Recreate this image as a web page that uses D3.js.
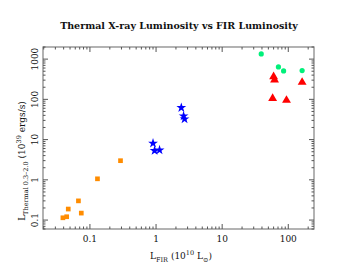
<!DOCTYPE html>
<html>
<head>
<meta charset="utf-8">
<script src="https://cdn.jsdelivr.net/npm/d3@7"></script>
<style>
  body { margin: 0; background: #fff; }
  text { font-family: "DejaVu Serif", serif; fill: #111; }
</style>
</head>
<body>
<svg id="chart" width="358" height="277"></svg>
<script>
// data (x = L_FIR in 1e10 Lsun, y = L_thermal in 1e39 erg/s)
const orangeX = [0.039, 0.0445, 0.047, 0.067, 0.074, 0.13, 0.29];
const orangeY = [0.114, 0.121, 0.188, 0.30, 0.149, 1.06, 2.99];
const blueX = [2.41, 2.61, 2.70, 0.90, 0.95, 1.13];
const blueY = [62, 38.6, 32.5, 8.1, 5.3, 5.5];
const greenX = [39, 71, 85, 162];
const greenY = [1346, 640, 508, 518];
const redX = [60, 62, 162, 58, 94];
const redY = [367, 304, 266, 106, 95];

const xTicks = [0.1, 1, 10, 100];
const xTickLabels = ["0.1", "1", "10", "100"];
const yTicks = [0.1, 1, 10, 100, 1000];
const yTickLabels = ["0.1", "1", "10", "100", "1000"];

const svg = d3.select("svg#chart");
const margin = { top: 47, right: 44, bottom: 48, left: 43 };
const width = 358 - margin.left - margin.right;
const height = 277 - margin.top - margin.bottom;
const axisColor = "#808080";

const xScale = d3.scaleLog().domain([0.0195, 245]).range([0, width]);
const yScale = d3.scaleLog().domain([0.06, 2000]).range([height, 0]);

const plot = svg.append("g")
  .attr("transform", `translate(${margin.left},${margin.top})`);

// frame
plot.append("rect")
  .attr("width", width)
  .attr("height", height)
  .attr("fill", "none")
  .attr("stroke", axisColor)
  .attr("stroke-width", 1.2);

// minor + major ticks, pointing inward on all four sides
function minorTicks(scale) {
  const [a, b] = scale.domain();
  const out = [];
  for (let e = Math.floor(Math.log10(a)); e <= Math.ceil(Math.log10(b)); e++) {
    for (let m = 1; m < 10; m++) {
      const v = m * Math.pow(10, e);
      if (v >= a && v <= b) out.push({ v: v, major: m === 1 });
    }
  }
  return out;
}

const xt = minorTicks(xScale);
const yt = minorTicks(yScale);
const ticks = plot.append("g").attr("stroke", "#555").attr("stroke-width", 1);

ticks.selectAll(".xb").data(xt).join("line")
  .attr("x1", d => xScale(d.v)).attr("x2", d => xScale(d.v))
  .attr("y1", height).attr("y2", d => height - (d.major ? 5 : 2.5));
ticks.selectAll(".xt").data(xt).join("line")
  .attr("x1", d => xScale(d.v)).attr("x2", d => xScale(d.v))
  .attr("y1", 0).attr("y2", d => (d.major ? 5 : 2.5));
ticks.selectAll(".yl").data(yt).join("line")
  .attr("y1", d => yScale(d.v)).attr("y2", d => yScale(d.v))
  .attr("x1", 0).attr("x2", d => (d.major ? 5 : 2.5));
ticks.selectAll(".yr").data(yt).join("line")
  .attr("y1", d => yScale(d.v)).attr("y2", d => yScale(d.v))
  .attr("x1", width).attr("x2", d => width - (d.major ? 5 : 2.5));

// tick labels
plot.append("g").selectAll("text").data(xTicks).join("text")
  .attr("x", d => xScale(d))
  .attr("y", height + 13)
  .attr("text-anchor", "middle")
  .attr("font-size", 9)
  .text((d, i) => xTickLabels[i]);

plot.append("g").selectAll("text").data(yTicks).join("text")
  .attr("transform", d => `translate(-5,${yScale(d)}) rotate(-90)`)
  .attr("text-anchor", "middle")
  .attr("font-size", 9)
  .text((d, i) => yTickLabels[i]);

// markers
const sq = d3.symbol().type(d3.symbolSquare).size(22);
const star = d3.symbol().type(d3.symbolStar).size(30);
const tri = d3.symbol().type(d3.symbolTriangle).size(34);

plot.append("g").selectAll("path").data(orangeX).join("path")
  .attr("transform", (d, i) => `translate(${xScale(d)},${yScale(orangeY[i])})`)
  .attr("d", sq)
  .attr("fill", "#ff8c00");

plot.append("g").selectAll("path").data(blueX).join("path")
  .attr("transform", (d, i) => `translate(${xScale(d)},${yScale(blueY[i])})`)
  .attr("d", star)
  .attr("fill", "#0000ff");

plot.append("g").selectAll("circle").data(greenX).join("circle")
  .attr("cx", d => xScale(d))
  .attr("cy", (d, i) => yScale(greenY[i]))
  .attr("r", 2.6)
  .attr("fill", "#00f07a");

plot.append("g").selectAll("path").data(redX).join("path")
  .attr("transform", (d, i) => `translate(${xScale(d)},${yScale(redY[i])})`)
  .attr("d", tri)
  .attr("fill", "#ff0000");

// title
svg.append("text")
  .attr("x", 179)
  .attr("y", 29)
  .attr("text-anchor", "middle")
  .attr("font-size", 9.5)
  .attr("font-weight", "bold")
  .text("Thermal X-ray Luminosity vs FIR Luminosity");

// x label
const xl = svg.append("text")
  .attr("x", 181)
  .attr("y", 259)
  .attr("text-anchor", "middle")
  .attr("font-size", 9);
xl.append("tspan").text("L");
xl.append("tspan").attr("font-size", 6.5).attr("dy", 3).text("FIR");
xl.append("tspan").attr("dy", -3).text(" (10");
xl.append("tspan").attr("font-size", 6.5).attr("dy", -4).text("10");
xl.append("tspan").attr("dy", 4).text(" L");
xl.append("tspan").attr("font-size", 6.5).attr("dy", 3).text("⊙");
xl.append("tspan").attr("dy", -3).text(")");

// y label
const yl = svg.append("text")
  .attr("transform", "translate(25,161) rotate(-90)")
  .attr("text-anchor", "middle")
  .attr("font-size", 9);
yl.append("tspan").text("L");
yl.append("tspan").attr("font-size", 6.5).attr("dy", 3).text("Thermal 0.3–2.0");
yl.append("tspan").attr("dy", -3).text(" (10");
yl.append("tspan").attr("font-size", 6.5).attr("dy", -4).text("39");
yl.append("tspan").attr("dy", 4).text(" ergs/s)");
</script>
</body>
</html>
